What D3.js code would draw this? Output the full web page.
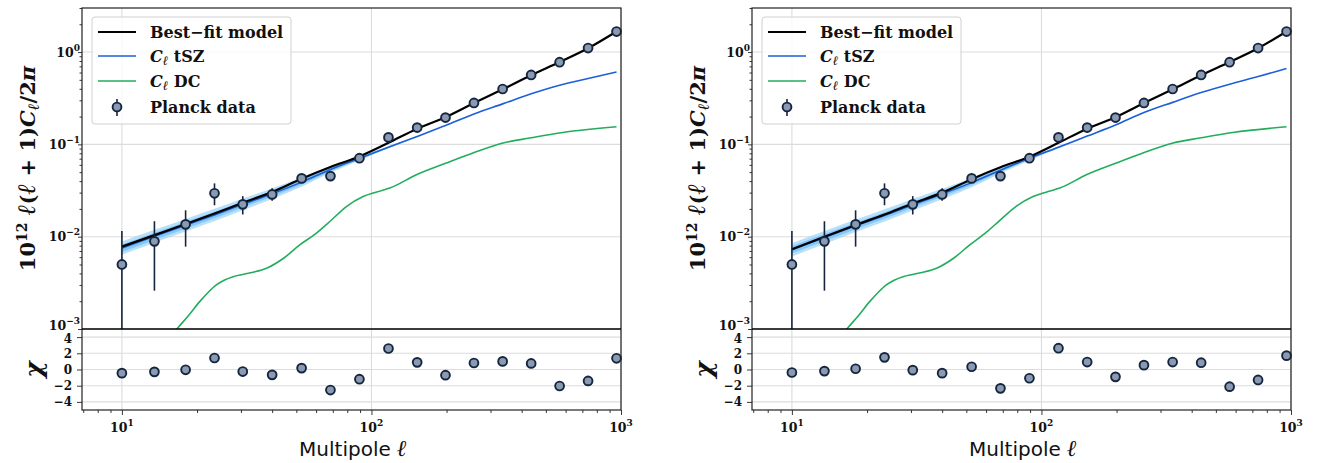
<!DOCTYPE html>
<html><head><meta charset="utf-8">
<script src="https://cdn.jsdelivr.net/npm/d3@7"></script>
<style>body{margin:0;background:#fff}</style>
</head><body><svg id="c" width="1322" height="463" xmlns="http://www.w3.org/2000/svg"></svg>
<script>
// ---------------- data ----------------
const ell = [10,13.5,18,23.5,30.5,40,52.5,68.5,89.5,117,152.5,198,257.5,335.5,436.5,567.5,738,959.5];
const planckD  = [0.0050,0.0089,0.0136,0.0295,0.0224,0.0287,0.0428,0.0453,0.0708,0.119,0.152,0.195,0.281,0.398,0.565,0.776,1.105,1.667];
const planckLo = [0.0002,0.0026,0.0078,0.0219,0.0174,0.0245,0.0392,0.0420,0.0665,0.112,0.145,0.187,0.270,0.384,0.548,0.755,1.075,1.625];
const planckHi = [0.0115,0.0147,0.0193,0.0378,0.0275,0.0335,0.0468,0.0490,0.0755,0.126,0.159,0.203,0.292,0.412,0.582,0.797,1.135,1.710];

const chiLeft  = [-0.45,-0.29,-0.04,1.42,-0.25,-0.66,0.17,-2.54,-1.20,2.59,0.88,-0.70,0.80,1.00,0.75,-2.04,-1.41,1.38];
const chiRight = [-0.37,-0.20,0.09,1.50,-0.08,-0.45,0.34,-2.33,-1.08,2.63,0.92,-0.91,0.54,0.92,0.84,-2.12,-1.29,1.71];

const modelLeft  = [0.0078,0.0104,0.0137,0.0178,0.0233,0.0305,0.0425,0.0570,0.0740,0.104,0.148,0.197,0.280,0.395,0.560,0.780,1.100,1.670];
const modelRight = [0.0073,0.0100,0.0134,0.0174,0.0229,0.0300,0.0420,0.0565,0.0735,0.104,0.148,0.197,0.280,0.395,0.560,0.780,1.100,1.670];

const tszLeft  = [0.0075,0.0101,0.0133,0.0172,0.0224,0.0292,0.0390,0.0535,0.0705,0.0930,0.122,0.160,0.2135,0.2745,0.3527,0.437,0.517,0.607];
const tszRight = [0.0072,0.0098,0.0131,0.0170,0.0222,0.0290,0.0385,0.0525,0.0705,0.0930,0.123,0.162,0.221,0.285,0.364,0.448,0.542,0.665];

// tSZ uncertainty bands (visible part, low multipoles)
const bandEll = [10,13.5,18,23.5,30.5,40,52.5,68.5,89.5,117,152.5];
const tszLeftLo2  = [0.00636,0.00860,0.01138,0.01478,0.01938,0.02555,0.03476,0.04913,0.06702,0.09091,0.12088];
const tszLeftHi2  = [0.00885,0.01187,0.01555,0.02002,0.02589,0.03338,0.04376,0.05826,0.07417,0.09514,0.12313];
const tszLeftLo1  = [0.00684,0.00923,0.01221,0.01587,0.02076,0.02725,0.03673,0.05121,0.06873,0.09193,0.12144];
const tszLeftHi1  = [0.00822,0.01105,0.01448,0.01864,0.02417,0.03129,0.04141,0.05589,0.07231,0.09408,0.12256];
const tszRightLo2 = [0.00610,0.00834,0.01121,0.01460,0.01920,0.02537,0.03431,0.04821,0.06702,0.09091,0.12187];
const tszRightHi2 = [0.00850,0.01152,0.01531,0.01979,0.02566,0.03315,0.04320,0.05717,0.07417,0.09514,0.12414];
const tszRightLo1 = [0.00657,0.00896,0.01203,0.01568,0.02058,0.02706,0.03626,0.05025,0.06873,0.09193,0.12244];
const tszRightHi1 = [0.00789,0.01072,0.01426,0.01843,0.02395,0.03107,0.04088,0.05485,0.07231,0.09408,0.12357];

const dcEll   = [14,16.6,18.5,20.5,22.2,23.9,25.8,27.9,30.5,33.6,38.0,44.3,51.6,60.2,68.1,79.4,92.6,105,118.4,151.4,199.5,255,336.5,430.5,585,959.5];
const dcLeft  = [0.00055,0.0010,0.00140,0.00198,0.0025,0.0030,0.00340,0.00369,0.0039,0.00412,0.00455,0.0058,0.00815,0.0109,0.0146,0.0212,0.0272,0.0305,0.0336,0.0468,0.0627,0.0804,0.1033,0.117,0.1346,0.155];
const dcRight = [0.00055,0.0010,0.00140,0.00198,0.0025,0.0030,0.00340,0.00369,0.0039,0.00412,0.00455,0.0058,0.00815,0.0112,0.0150,0.0214,0.0272,0.0305,0.0336,0.0468,0.0627,0.0804,0.1033,0.117,0.1346,0.155];

const xTicks = [10,100,1000];
const xTickExp = ["1","2","3"];
const yTicks = [1e-3,1e-2,1e-1,1];
const yTickExp = ["\u22123","\u22122","\u22121","0"];
const chiTicks = [-4,-2,0,2,4];
const chiTickLabels = ["\u22124","\u22122","0","2","4"];
const legendLabels = ["Best\u2212fit model","tSZ","DC","Planck data"];

// ---------------- style ----------------
const C = {black:"#000", blue:"#1b5fd9", green:"#22ad5c", band2:"#a6d8fa", band1:"#62b8f0",
           mfill:"#8a9ab2", mstroke:"#15253d", grid:"#dcdcdc", spine:"#222"};
const serif = "'DejaVu Serif', serif";
const ellFont = "'Liberation Serif', 'DejaVu Serif', serif";

const svg = d3.select("#c");
const PW = 539, TOP = 8, MID = 329, BOT = 410;

function panel(x0, d, idx) {
  const g = svg.append("g");
  const x = d3.scaleLog().domain([6.92,1000]).range([x0, x0+PW]);
  const y = d3.scaleLog().domain([1e-3,3]).range([MID, TOP]);
  const yc = d3.scaleLinear().domain([-5,5]).range([BOT, MID]);

  const cid = "clip"+idx;
  svg.append("defs").append("clipPath").attr("id",cid)
     .append("rect").attr("x",x0).attr("y",TOP).attr("width",PW).attr("height",MID-TOP);

  // grids
  const grid = g.append("g").attr("stroke",C.grid).attr("stroke-width",1.1);
  xTicks.forEach(t => {
    grid.append("line").attr("x1",x(t)).attr("x2",x(t)).attr("y1",TOP).attr("y2",BOT);
  });
  yTicks.forEach(t => grid.append("line").attr("x1",x0).attr("x2",x0+PW).attr("y1",y(t)).attr("y2",y(t)));
  chiTicks.forEach(t => grid.append("line").attr("x1",x0).attr("x2",x0+PW).attr("y1",yc(t)).attr("y2",yc(t)));

  const plot = g.append("g").attr("clip-path",`url(#${cid})`);
  const bandI = d3.range(bandEll.length);
  const area = (lo,hi) => d3.area().x(i=>x(bandEll[i])).y0(i=>y(lo[i])).y1(i=>y(hi[i])).curve(d3.curveMonotoneX);
  plot.append("path").attr("d",area(d.lo2,d.hi2)(bandI)).attr("fill",C.band2).attr("opacity",0.8);
  plot.append("path").attr("d",area(d.lo1,d.hi1)(bandI)).attr("fill",C.band1).attr("opacity",0.6);

  const dcLine = d3.line().x(i=>x(dcEll[i])).y(i=>y(d.dc[i])).curve(d3.curveMonotoneX);
  plot.append("path").attr("d",dcLine(d3.range(dcEll.length))).attr("fill","none").attr("stroke",C.green).attr("stroke-width",1.6);
  const line = arr => d3.line().x(i=>x(ell[i])).y(i=>y(arr[i])).curve(d3.curveMonotoneX)(d3.range(ell.length));
  plot.append("path").attr("d",line(d.tsz)).attr("fill","none").attr("stroke",C.blue).attr("stroke-width",1.6);
  plot.append("path").attr("d",line(d.model)).attr("fill","none").attr("stroke",C.black).attr("stroke-width",2.2);

  // error bars + points
  plot.selectAll(".eb").data(ell).join("line")
    .attr("x1",v=>x(v)).attr("x2",v=>x(v))
    .attr("y1",(v,i)=>y(planckLo[i])).attr("y2",(v,i)=>y(planckHi[i]))
    .attr("stroke",C.mstroke).attr("stroke-width",1.6);
  g.selectAll(".pt").data(ell).join("circle")
    .attr("cx",v=>x(v)).attr("cy",(v,i)=>y(planckD[i])).attr("r",4.4)
    .attr("fill",C.mfill).attr("stroke",C.mstroke).attr("stroke-width",1.9);

  // residual points
  g.selectAll(".rp").data(ell).join("circle")
    .attr("cx",v=>x(v)).attr("cy",(v,i)=>yc(d.chi[i])).attr("r",4.4)
    .attr("fill",C.mfill).attr("stroke",C.mstroke).attr("stroke-width",1.9);

  // frames
  g.append("rect").attr("x",x0).attr("y",TOP).attr("width",PW).attr("height",BOT-TOP)
   .attr("fill","none").attr("stroke",C.spine).attr("stroke-width",1.2);
  g.append("line").attr("x1",x0).attr("x2",x0+PW).attr("y1",MID).attr("y2",MID).attr("stroke","#000").attr("stroke-width",1.3);

  // y axis (main) ticks
  const minorY = [];
  [1e-3,1e-2,1e-1,1].forEach(b => [2,3,4,5,6,7,8,9].forEach(m => { if (b*m <= 3.0001) minorY.push(b*m); }));
  const ay = g.append("g").attr("transform",`translate(${x0},0)`);
  ay.call(d3.axisLeft(y).tickValues(yTicks).tickSize(4).tickFormat(()=>""));
  ay.append("g").call(d3.axisLeft(y).tickValues(minorY).tickSize(2.5).tickFormat(()=>""));
  ay.selectAll(".domain").remove();
  ay.selectAll("line").attr("stroke",C.spine).attr("stroke-width",0.9);
  yTicks.forEach((t,i) => {
    const tx = g.append("text").attr("x",x0-2).attr("y",y(t)+(i===0?0.5:4.5)).attr("text-anchor","end")
      .attr("font-family",serif).attr("font-weight","bold").attr("font-size",12.5).attr("fill","#111");
    tx.append("tspan").text("10");
    tx.append("tspan").attr("dy",-6).attr("font-size",9).text(yTickExp[i]);
  });

  // chi axis
  const ac = g.append("g").attr("transform",`translate(${x0},0)`);
  ac.call(d3.axisLeft(yc).tickValues(chiTicks).tickSize(5).tickFormat(()=>""));
  ac.selectAll(".domain").remove();
  ac.selectAll("line").attr("stroke",C.spine).attr("stroke-width",0.9);
  chiTicks.forEach((t,i) => {
    g.append("text").attr("x",x0-10).attr("y",yc(t)+(i===4?5.5:4.5)).attr("text-anchor","end")
      .attr("font-family",serif).attr("font-weight","bold").attr("font-size",12).attr("fill","#111")
      .text(chiTickLabels[i]);
  });

  // x axis
  const minorX = [7,8,9,20,30,40,50,60,70,80,90,200,300,400,500,600,700,800,900];
  const ax = g.append("g").attr("transform",`translate(0,${BOT})`);
  ax.call(d3.axisBottom(x).tickValues(xTicks).tickSize(5).tickFormat(()=>""));
  ax.append("g").call(d3.axisBottom(x).tickValues(minorX).tickSize(3).tickFormat(()=>""));
  ax.selectAll(".domain").remove();
  ax.selectAll("line").attr("stroke",C.spine).attr("stroke-width",0.9);
  xTicks.forEach((t,i) => {
    const tx = g.append("text").attr("x",x(t)).attr("y",432).attr("text-anchor","middle")
      .attr("font-family",serif).attr("font-weight","bold").attr("font-size",12.5).attr("fill","#111");
    tx.append("tspan").text("10");
    tx.append("tspan").attr("dy",-6).attr("font-size",9).text(xTickExp[i]);
  });

  // x label
  const xl = g.append("text").attr("x",x0+271).attr("y",456).attr("text-anchor","middle")
    .attr("font-family","'DejaVu Sans', sans-serif").attr("font-size",20).attr("fill","#111");
  xl.append("tspan").text("Multipole ");
  xl.append("tspan").attr("font-family",ellFont).attr("font-style","italic").attr("font-weight","bold")
    .attr("font-size",23).text("\u2113");

  // y label
  const yl = g.append("text").attr("transform",`translate(${x0-47},${(TOP+MID)/2}) rotate(-90)`)
    .attr("text-anchor","middle").attr("font-family",serif).attr("font-weight","bold").attr("font-size",21).attr("fill","#111");
  yl.append("tspan").text("10");
  yl.append("tspan").attr("dy",-8).attr("font-size",14).text("12");
  yl.append("tspan").attr("dy",8).text(" ");
  yl.append("tspan").attr("font-family",ellFont).attr("font-style","italic").attr("font-size",25).text("\u2113");
  yl.append("tspan").text("(");
  yl.append("tspan").attr("font-family",ellFont).attr("font-style","italic").attr("font-size",25).text("\u2113");
  yl.append("tspan").text(" + 1)");
  yl.append("tspan").attr("font-style","italic").text("C");
  yl.append("tspan").attr("font-family",ellFont).attr("font-style","italic").attr("font-size",16).attr("dy",4).text("\u2113");
  yl.append("tspan").attr("dy",-4).text("/2");
  yl.append("tspan").attr("font-style","italic").text("\u03c0");

  g.append("text").attr("transform",`translate(${x0-40},${yc(0)}) rotate(-90)`)
    .attr("text-anchor","middle").attr("font-family",serif).attr("font-weight","bold").attr("font-style","italic")
    .attr("font-size",25).attr("fill","#111").text("\u03c7");

  // legend
  const L = g.append("g").attr("transform",`translate(${x0+10},17)`);
  L.append("rect").attr("width",199).attr("height",107).attr("rx",3)
    .attr("fill","#fff").attr("fill-opacity",0.82).attr("stroke","#d0d0d0").attr("stroke-width",1);
  const rows = [15,39,64,90];
  const cols = [C.black,C.blue,C.green];
  [0,1,2].forEach(i => L.append("line").attr("x1",6).attr("x2",44).attr("y1",rows[i]).attr("y2",rows[i])
     .attr("stroke",cols[i]).attr("stroke-width",i===0?2.2:1.6));
  L.append("line").attr("x1",25).attr("x2",25).attr("y1",rows[3]-8).attr("y2",rows[3]+9)
     .attr("stroke",C.mstroke).attr("stroke-width",1.6);
  L.append("circle").attr("cx",25).attr("cy",rows[3]).attr("r",4.4).attr("fill",C.mfill).attr("stroke",C.mstroke).attr("stroke-width",1.9);
  const lt = (i) => L.append("text").attr("x",58).attr("y",rows[i]+5.5)
     .attr("font-family",serif).attr("font-weight","bold").attr("font-size",16).attr("fill","#111");
  lt(0).text(legendLabels[0]);
  [1,2].forEach(i => {
    const t = lt(i);
    t.append("tspan").attr("font-style","italic").text("C");
    t.append("tspan").attr("font-family",ellFont).attr("font-style","italic").attr("font-size",13).attr("dy",3.5).text("\u2113");
    t.append("tspan").attr("dy",-3.5).text(" " + legendLabels[i]);
  });
  lt(3).text(legendLabels[3]);
}

panel(82, {chi:chiLeft, model:modelLeft, tsz:tszLeft, lo2:tszLeftLo2, hi2:tszLeftHi2, lo1:tszLeftLo1, hi1:tszLeftHi1, dc:dcLeft}, 0);
panel(752, {chi:chiRight, model:modelRight, tsz:tszRight, lo2:tszRightLo2, hi2:tszRightHi2, lo1:tszRightLo1, hi1:tszRightHi1, dc:dcRight}, 1);
</script>
</body></html>
